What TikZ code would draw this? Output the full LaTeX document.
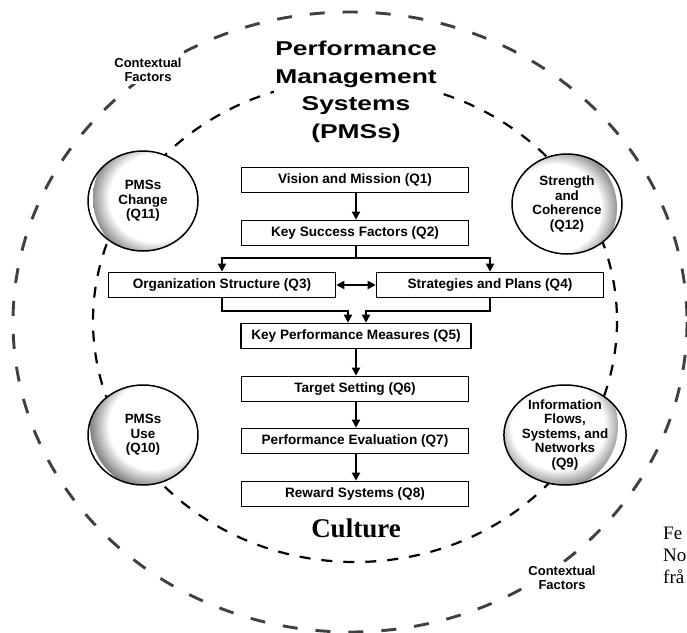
\documentclass[tikz,border=0pt]{standalone}
\usepackage{fontspec}
\setmainfont{Liberation Serif}
\setsansfont{Liberation Sans}
\usetikzlibrary{arrows.meta,shapes.geometric,calc}
\pgfdeclareradialshading{bubbleshade}{\pgfpoint{0bp}{0bp}}{color(0bp)=(white); color(17bp)=(white); color(25bp)=(black!55); color(50bp)=(black!55)}
\tikzset{
  outerdash/.style={line width=2.9pt, black!75, dash pattern=on 15pt off 18pt},
  innerdash/.style={line width=2.2pt, black, dash pattern=on 11pt off 11pt},
  box/.style={draw, line width=1.6pt, fill=white, minimum width=227pt, minimum height=25pt, inner sep=0pt, font=\sffamily\bfseries\fontsize{13.6}{15}\selectfont},
  arr/.style={line width=1.8pt, -{Triangle[length=8pt,width=8pt]}},
  dblarr/.style={line width=1.8pt, {Triangle[length=8pt,width=8pt]}-{Triangle[length=8pt,width=8pt]}},
  bubble/.style={ellipse, draw, line width=1.5pt, fill=white, minimum width=110pt, minimum height=100pt, inner sep=0pt, align=center, font=\sffamily\bfseries\fontsize{13.4}{14.5}\selectfont,
    path picture={\shade[shading=bubbleshade] ($(path picture bounding box.center)+(#1)$) circle (64pt);}},
  ctx/.style={align=center, fill=white, inner sep=2pt, font=\sffamily\bfseries\fontsize{13}{13.5}\selectfont},
  ttl/.style={align=center, fill=white, inner sep=1pt, font=\sffamily\bfseries\fontsize{20}{27.5}\selectfont},
  frag/.style={anchor=west, inner sep=0pt, font=\fontsize{19}{22}\selectfont},
}
\newcommand{\wideword}[1]{\scalebox{1.32}[1]{#1}}
\begin{document}
\begin{tikzpicture}[x=1pt,y=-1pt]
\useasboundingbox (0,0) rectangle (687,632);
\clip (0,0) rectangle (687,632);
\fill[white] (0,0) rectangle (687,632);

% outer and inner dashed rings
\draw[outerdash] (350,322) ellipse [x radius=337, y radius=310];
\draw[innerdash] (355,321) ellipse [x radius=262, y radius=241];

\node[ctx] (cf1) at (148,70) {Contextual\\Factors};
\node[ctx] (cf2) at (562,578) {Contextual\\Factors};

\node[ttl] (title) at (356,92) {\wideword{Performance}\\\wideword{Management}\\\wideword{Systems}\\\wideword{(PMSs)}};

% boxes
\node[box] (q1) at (355,180) {Vision and Mission (Q1)};
\node[box] (q2) at (355,233) {Key Success Factors (Q2)};
\node[box] (q3) at (222,285) {Organization Structure (Q3)};
\node[box] (q4) at (490,285) {Strategies and Plans (Q4)};
\node[box, minimum width=230pt] (q5) at (356,336) {Key Performance Measures (Q5)};
\node[box] (q6) at (355,389) {Target Setting (Q6)};
\node[box] (q7) at (355,441) {Performance Evaluation (Q7)};
\node[box] (q8) at (355,494) {Reward Systems (Q8)};

% connectors
\coordinate (b1) at (356,258);
\coordinate (m1) at (348,311);
\coordinate (m2) at (366,311);
\draw[arr] (q1.south -| b1) -- (q2.north -| b1);
\draw[arr] (q2.south -| b1) -- (b1) -| (q3.north);
\draw[arr] (b1) -| (q4.north);
\draw[dblarr] (q3.east) -- (q4.west);
\draw[arr] (q3.south) |- (m1) -- (m1 |- q5.north);
\draw[arr] (q4.south) |- (m2) -- (m2 |- q5.north);
\draw[arr] (q5.south -| b1) -- (q6.north -| b1);
\draw[arr] (q6.south -| b1) -- (q7.north -| b1);
\draw[arr] (q7.south -| b1) -- (q8.north -| b1);

% bubbles
\node[bubble={14,-3}] (q11) at (143,201) {PMSs\\Change\\(Q11)};
\node[bubble={-14,4}] (q12) at (567,204) {Strength\\and\\Coherence\\(Q12)};
\node[bubble={11,-9}] (q10) at (143,435) {PMSs\\Use\\(Q10)};
\node[bubble={-11,-9}] (q9) at (565,435) {Information\\Flows,\\Systems, and\\Networks\\(Q9)};

\node[font=\bfseries\fontsize{27}{30}\selectfont, inner sep=0pt] (culture) at (356,528) {Culture};

% text at the right edge
\node[frag] (fr1) at (663,533) {Fe};
\node[frag] (fr2) at (663,555) {No};
\node[frag] (fr3) at (663,577) {frå};
\end{tikzpicture}
\end{document}
